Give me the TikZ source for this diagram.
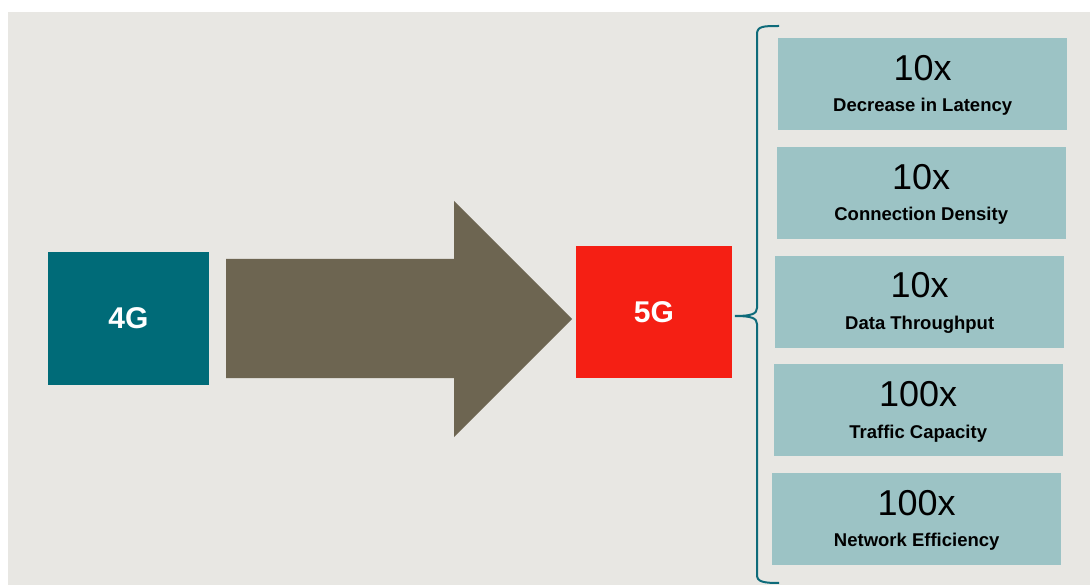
\documentclass[tikz,border=0pt]{standalone}
\usepackage{fontspec}
\setmainfont{Liberation Sans}
\usetikzlibrary{positioning,calc}
\definecolor{bgpaper}{HTML}{E8E7E3}
\definecolor{gteal}{HTML}{006B78}
\definecolor{gred}{HTML}{F51F14}
\definecolor{garrow}{HTML}{6D6551}
\definecolor{gbox}{HTML}{9CC3C5}
\definecolor{gbrace}{HTML}{0E6B7A}
\tikzset{
    gen/.style={rectangle,inner sep=0pt,text=white,font=\bfseries\fontsize{30}{30}\selectfont},
    gain/.style={rectangle,fill=gbox,minimum width=289pt,minimum height=92pt,inner sep=0pt},
    gainnum/.style={anchor=base,inner sep=0pt,font=\fontsize{36}{36}\selectfont},
    gaintxt/.style={anchor=base,inner sep=0pt,font=\bfseries\fontsize{18.5}{20}\selectfont}
}
\begin{document}
\begin{tikzpicture}[x=1pt,y=-1pt]
\useasboundingbox (0,0) rectangle (1090,585);
\fill[bgpaper] (8,12) rectangle (1090,585);
% generations
\node[gen,fill=gteal,minimum width=161pt,minimum height=133pt] (g4) at (128.5,318.5) {4G};
\node[gen,fill=gred,minimum width=156pt,minimum height=132pt] (g5) at (654,312) {5G};
% big arrow
\fill[garrow] (226,259) -- (454,259) -- (454,201) -- (572,319) -- (454,437)
    -- (454,378) -- (226,378) -- cycle;
% brace
\draw[gbrace,line width=2pt] (779,26) .. controls (764,26) and (757,26) .. (757,34)
    -- (757,308) .. controls (757,314) and (751,316) .. (735,316)
    .. controls (751,316) and (757,318) .. (757,324)
    -- (757,575) .. controls (757,582) and (764,583) .. (779,583);
% gains
\foreach \i/\num/\txt in {1/10x/Decrease in Latency,2/10x/Connection Density,
    3/10x/Data Throughput,4/100x/Traffic Capacity,5/100x/Network Efficiency}{
    \node[gain,anchor=north west] (b\i) at (779.5-1.5*\i,38+108.7*\i-108.7) {};
    \node[gainnum] (n\i) at ($(b\i.north)+(0,42.5)$) {\num};
    \node[gaintxt] (t\i) at ($(b\i.north)+(0,74)$) {\txt};
}
\end{tikzpicture}
\end{document}
